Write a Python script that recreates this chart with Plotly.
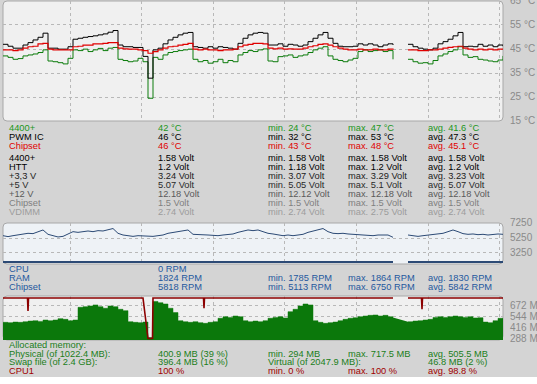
import plotly.graph_objects as go

W, H = 537, 384

# ---------------- data ----------------
# sample index along the time strip (gap = sensor logging pause)
t = list(range(101))

temp_4400 = [42.2, 41.6, 40.8, 41.1, 42.2, 42.6, 43.0, 43.6, 44.7, 40.1,
             39.8, 39.4, 38.9, 41.2, 44.7, 44.4, 45.0, 44.0, 44.7, 45.3,
             44.4, 45.4, 45.7, 40.8, 40.3, 39.8, 40.1, 41.2, 39.8, 24.7,
             41.6, 40.8, 42.6, 43.6, 44.0, 44.4, 44.7, 45.0, 40.8, 39.8,
             40.3, 39.2, 39.8, 40.8, 39.4, 40.3, 39.8, 42.6, 43.6, 44.4,
             44.0, 44.7, 45.1, 40.1, 39.8, 41.9, 42.2, 42.6, 41.6, 42.2,
             42.6, 43.6, 44.7, 45.4, 46.0, 42.2, 40.8, 40.3, 39.8, 40.5,
             41.2, 44.0, 44.7, 44.0, 44.4, 44.7, 44.0, 44.4, 40.8, None,
             None, 40.8, 39.8, 39.2, 39.4, 38.9, 40.3, 42.2, 43.0, 44.0,
             44.7, 46.0, 42.6, 41.6, 41.9, 40.8, 40.5, 40.1, 39.8, 40.5, 42.2]

temp_pwm = [47.0, 46.2, 45.4, 45.4, 46.7, 47.7, 48.8, 49.9, 51.6, 45.4,
            45.4, 45.0, 45.0, 46.0, 49.1, 49.5, 49.9, 50.2, 50.5, 50.9,
            51.3, 52.0, 52.7, 46.7, 46.0, 46.0, 45.7, 45.7, 42.0, 33.0,
            44.7, 45.4, 47.2, 48.8, 49.9, 50.9, 51.6, 51.9, 46.0, 45.7,
            45.4, 46.0, 45.4, 46.0, 45.7, 45.4, 45.0, 47.4, 49.5, 50.9,
            51.6, 51.9, 51.6, 46.7, 46.7, 47.2, 46.2, 47.0, 46.7, 46.2,
            46.7, 48.1, 49.5, 50.9, 51.9, 49.5, 47.4, 46.2, 46.0, 46.0,
            46.2, 47.2, 46.7, 47.2, 46.7, 46.0, 46.7, 47.2, 46.7, None,
            None, 47.0, 46.0, 45.4, 45.0, 44.7, 45.4, 47.2, 48.1, 49.1,
            50.5, 51.9, 46.0, 46.2, 46.0, 47.0, 46.2, 46.7, 46.0, 46.7, 46.2]

temp_chipset = [44.7, 44.7, 44.4, 44.7, 45.4, 46.0, 46.2, 47.2, 47.4, 45.0,
                44.7, 44.7, 44.7, 44.7, 46.0, 46.2, 46.7, 46.7, 47.2, 47.2,
                47.4, 47.7, 47.7, 45.4, 45.1, 45.0, 45.0, 44.7, 44.4, 43.3,
                44.0, 44.7, 45.4, 46.0, 46.2, 46.7, 47.0, 47.4, 45.0, 44.7,
                45.0, 44.7, 44.7, 44.4, 44.7, 44.7, 45.0, 46.0, 46.7, 47.0,
                47.4, 47.4, 47.2, 45.4, 45.1, 45.4, 45.0, 45.1, 45.0, 45.0,
                45.4, 46.0, 46.4, 47.0, 47.2, 46.7, 46.0, 45.4, 45.0, 44.7,
                44.7, 45.0, 44.7, 44.7, 45.0, 44.7, 44.7, 45.0, 44.7, None,
                None, 44.7, 44.7, 44.4, 44.4, 44.7, 44.7, 45.0, 45.4, 45.7,
                46.0, 46.2, 45.4, 45.0, 44.7, 45.0, 44.7, 45.0, 44.7, 45.0, 44.7]

fan_chipset = [5700, 5560, 5700, 5800, 5900, 6050, 6000, 6290, 6540, 5900,
               5650, 5510, 5600, 5900, 6290, 6190, 6290, 6390, 6290, 6440,
               6390, 6540, 6750, 6050, 5800, 5700, 5600, 5700, 5650, 5560,
               5600, 5700, 5800, 6050, 6190, 6290, 6390, 6540, 5900, 5900,
               5800, 5800, 5750, 5700, 5800, 5900, 5950, 6190, 6390, 6540,
               6440, 6540, 6290, 6050, 5950, 5800, 5700, 5800, 5700, 5800,
               5900, 6190, 6390, 6540, 6750, 6290, 6050, 6000, 6050, 5950,
               5900, 5800, 5750, 5800, 5700, 5800, 5750, 5800, 5460, None,
               None, 5800, 5650, 5600, 5700, 5800, 5900, 6000, 6050, 6290,
               6540, 6290, 6000, 5900, 5950, 5850, 5900, 5800, 5900, 5950, 5900]

fan_ram_t = [0, 78, None, 81, 100]
fan_ram = [1830, 1830, None, 1830, 1830]

mem_physical = [472, 468, 475, 472, 479, 487, 491, 483, 499, 491,
                499, 515, 507, 491, 499, 648, 656, 664, 676, 656,
                637, 664, 656, 625, 609, 479, 472, 468, 475, 294,
                717, 702, 687, 637, 586, 491, 479, 472, 479, 468,
                460, 472, 479, 519, 538, 530, 546, 538, 491, 479,
                487, 479, 491, 519, 530, 538, 523, 597, 625, 664,
                687, 676, 491, 472, 460, 468, 475, 491, 507, 519,
                526, 538, 546, 554, 558, 546, 554, 538, 530, None,
                None, 479, 487, 491, 499, 507, 530, 538, 530, 538,
                546, 538, 530, 538, 523, 526, 475, 468, 491, 519, 479]

cpu_t = [0, 4.9, 5.0, 5.1, 28.0, 28.3, 28.6, 29.0, 29.9, 30.0,
         40.1, 40.2, 40.3, 78, None, 81, 83.7, 83.8, 83.9, 100]
cpu_load = [100, 100, 68, 100, 100, 70, 40, 0, 0, 100,
            100, 75, 100, 100, None, 100, 100, 72, 100, 100]

temp_ticks = ["65 °C", "55 °C", "45 °C", "35 °C", "25 °C", "15 °C"]
fan_ticks = ["7250", "5250", "3250"]
mem_ticks = ["672 MB", "544 MB", "416 MB", "288 MB"]

temp_rows = [
    ("4400+", "42 °C", "min. 24 °C", "max. 47 °C", "avg. 41.6 °C"),
    ("PWM IC", "46 °C", "min. 32 °C", "max. 53 °C", "avg. 47.3 °C"),
    ("Chipset", "46 °C", "min. 43 °C", "max. 48 °C", "avg. 45.1 °C"),
]
volt_rows = [
    ("4400+", "1.58 Volt", "min. 1.58 Volt", "max. 1.58 Volt", "avg. 1.58 Volt"),
    ("HTT", "1.2 Volt", "min. 1.18 Volt", "max. 1.2 Volt", "avg. 1.2 Volt"),
    ("+3,3 V", "3.24 Volt", "min. 3.07 Volt", "max. 3.29 Volt", "avg. 3.23 Volt"),
    ("+5 V", "5.07 Volt", "min. 5.05 Volt", "max. 5.1 Volt", "avg. 5.07 Volt"),
    ("+12 V", "12.18 Volt", "min. 12.12 Volt", "max. 12.18 Volt", "avg. 12.18 Volt"),
    ("Chipset", "1.5 Volt", "min. 1.5 Volt", "max. 1.5 Volt", "avg. 1.5 Volt"),
    ("VDIMM", "2.74 Volt", "min. 2.74 Volt", "max. 2.75 Volt", "avg. 2.74 Volt"),
]
fan_rows = [
    ("CPU", "0 RPM", "", "", ""),
    ("RAM", "1824 RPM", "min. 1785 RPM", "max. 1864 RPM", "avg. 1830 RPM"),
    ("Chipset", "5818 RPM", "min. 5113 RPM", "max. 6750 RPM", "avg. 5842 RPM"),
]
mem_rows = [
    ("Allocated memory:", "", "", "", ""),
    ("Physical (of 1022.4 MB):", "400.9 MB (39 %)", "min. 294 MB", "max. 717.5 MB", "avg. 505.5 MB"),
    ("Swap file (of 2.4 GB):", "396.4 MB (16 %)", "Virtual (of 2047.9 MB):", "", "46.8 MB (2 %)"),
    ("CPU1", "100 %", "min. 0 %", "max. 100 %", "avg. 98.8 %"),
]

# ---------------- style ----------------
GREEN_T = "#1a961a"
RED = "#e00000"
BLUE_T = "#24589e"
GREEN_M = "#1a7e1a"
DRED = "#a00000"
volt_colors = ["#000000", "#000000", "#1c1c1c", "#2a2a2a", "#5a5a5a", "#808080", "#9c9c9c"]
FONT = "Liberation Sans, Arial, sans-serif"
FS = 9.3

def px(x):
    return x / W

def py(y):
    return 1 - y / H

fig = go.Figure()

# temperature panel
fig.add_trace(go.Scatter(x=t, y=temp_4400, mode="lines", line=dict(color="#0c7c0c", width=1, shape="hv"),
                         xaxis="x", yaxis="y", hoverinfo="skip"))
fig.add_trace(go.Scatter(x=t, y=temp_pwm, mode="lines", line=dict(color="#000000", width=1, shape="hv"),
                         xaxis="x", yaxis="y", hoverinfo="skip"))
fig.add_trace(go.Scatter(x=t, y=temp_chipset, mode="lines", line=dict(color="#e00000", width=1.2, shape="hv"),
                         xaxis="x", yaxis="y", hoverinfo="skip"))
# fan panel
fig.add_trace(go.Scatter(x=t, y=fan_chipset, mode="lines", line=dict(color="#2c4a75", width=1),
                         xaxis="x2", yaxis="y2", hoverinfo="skip"))
fig.add_trace(go.Scatter(x=fan_ram_t, y=fan_ram, mode="lines", line=dict(color="#2c4a75", width=2),
                         xaxis="x2", yaxis="y2", hoverinfo="skip"))
# memory / cpu panel
fig.add_trace(go.Scatter(x=t, y=mem_physical, mode="lines", fill="tozeroy", fillcolor="#0b780b",
                         line=dict(color="#0b780b", width=0.5, shape="hv"),
                         xaxis="x3", yaxis="y3", hoverinfo="skip"))
fig.add_trace(go.Scatter(x=cpu_t, y=cpu_load, mode="lines", line=dict(color="#8c0000", width=1.6),
                         xaxis="x3", yaxis="y4", hoverinfo="skip"))

GRID = dict(showgrid=True, gridcolor="#b8b8b8", griddash="3px,3px", gridwidth=1,
            zeroline=False, showline=False, showticklabels=False, ticks="")
xdom = [px(3), px(503)]
xcommon = dict(domain=xdom, range=[0, 100], tick0=13.4, dtick=14.32, **GRID)

fig.update_layout(
    width=W, height=H,
    margin=dict(l=0, r=0, t=0, b=0),
    paper_bgcolor="#d4d4d4",
    plot_bgcolor="rgba(0,0,0,0)",
    showlegend=False,
    hovermode=False,
    xaxis=dict(anchor="y", **xcommon),
    xaxis2=dict(anchor="y2", **xcommon),
    xaxis3=dict(anchor="y3", **xcommon),
    yaxis=dict(domain=[py(121), py(1)], range=[15.3, 64.9], tickvals=[25, 35, 45, 55], anchor="x", **GRID),
    yaxis2=dict(domain=[py(264), py(223)], range=[1537, 7564], tickvals=[3250, 5250], anchor="x2", **GRID),
    yaxis3=dict(domain=[py(340), py(296)], range=[264.6, 781], tickvals=[416, 544, 672], anchor="x3", **GRID),
    yaxis4=dict(domain=[py(340), py(296)], range=[-3.7, 104.9], overlaying="y3", anchor="x3",
                showgrid=False, zeroline=False, showticklabels=False, ticks=""),
)

def rrect(x0, y0, x1, y1, r):
    return (f"M {px(x0 + r)},{py(y0)} L {px(x1 - r)},{py(y0)} Q {px(x1)},{py(y0)} {px(x1)},{py(y0 + r)} "
            f"L {px(x1)},{py(y1 - r)} Q {px(x1)},{py(y1)} {px(x1 - r)},{py(y1)} "
            f"L {px(x0 + r)},{py(y1)} Q {px(x0)},{py(y1)} {px(x0)},{py(y1 - r)} "
            f"L {px(x0)},{py(y0 + r)} Q {px(x0)},{py(y0)} {px(x0 + r)},{py(y0)} Z")

shapes = []
for (y0, y1, bg) in [(1, 121, "#f0f0f0"), (223, 264, "#eef2f6"), (296, 340, "#f0f0f0")]:
    shapes.append(dict(type="path", path=rrect(3, y0, 503, y1, 4), xref="paper", yref="paper",
                       fillcolor=bg, line=dict(color="#a8a8a8", width=1), layer="below"))
shapes.append(dict(type="rect", xref="paper", yref="paper", x0=0, x1=1, y0=0, y1=py(377),
                   fillcolor="#ffffff", line=dict(width=0), layer="above"))
fig.update_layout(shapes=shapes)

ann = []

def label(x, y, text, color, size=FS):
    ann.append(dict(x=px(x), y=py(y), xref="paper", yref="paper", text=text, showarrow=False,
                    xanchor="left", yanchor="middle", borderpad=0,
                    font=dict(family=FONT, size=size, color=color)))

cols = [8, 157, 267, 347, 427]

def rows(rowlist, ys, colors):
    for row, y, c in zip(rowlist, ys, colors):
        for txt, x in zip(row, cols):
            if txt:
                label(x, y, txt, c)

rows(temp_rows, [128, 137, 146], [GREEN_T, "#000000", RED])
rows(volt_rows, [158, 167, 176, 185, 194, 203, 212], volt_colors)
rows(fan_rows, [268.5, 277.5, 286.5], [BLUE_T] * 3)
rows(mem_rows, [344.5, 353.5, 362, 371], [GREEN_M, GREEN_M, GREEN_M, DRED])

AX = "#8a8a8a"
for txt, y in zip(temp_ticks, [1, 24.5, 48.5, 72.5, 96.5, 120.5]):
    label(509, y, txt, AX, 10)
for txt, y in zip(fan_ticks, [222.5, 237.5, 252.5]):
    label(509, y, txt, AX, 10)
for txt, y in zip(mem_ticks, [305.5, 316.5, 327.5, 338]):
    label(509, y, txt, AX, 10)

fig.update_layout(annotations=ann)
fig.write_html("out.html", config={"displayModeBar": False, "staticPlot": True},
               post_script="document.body.style.margin='0';document.body.style.overflow='hidden';")
